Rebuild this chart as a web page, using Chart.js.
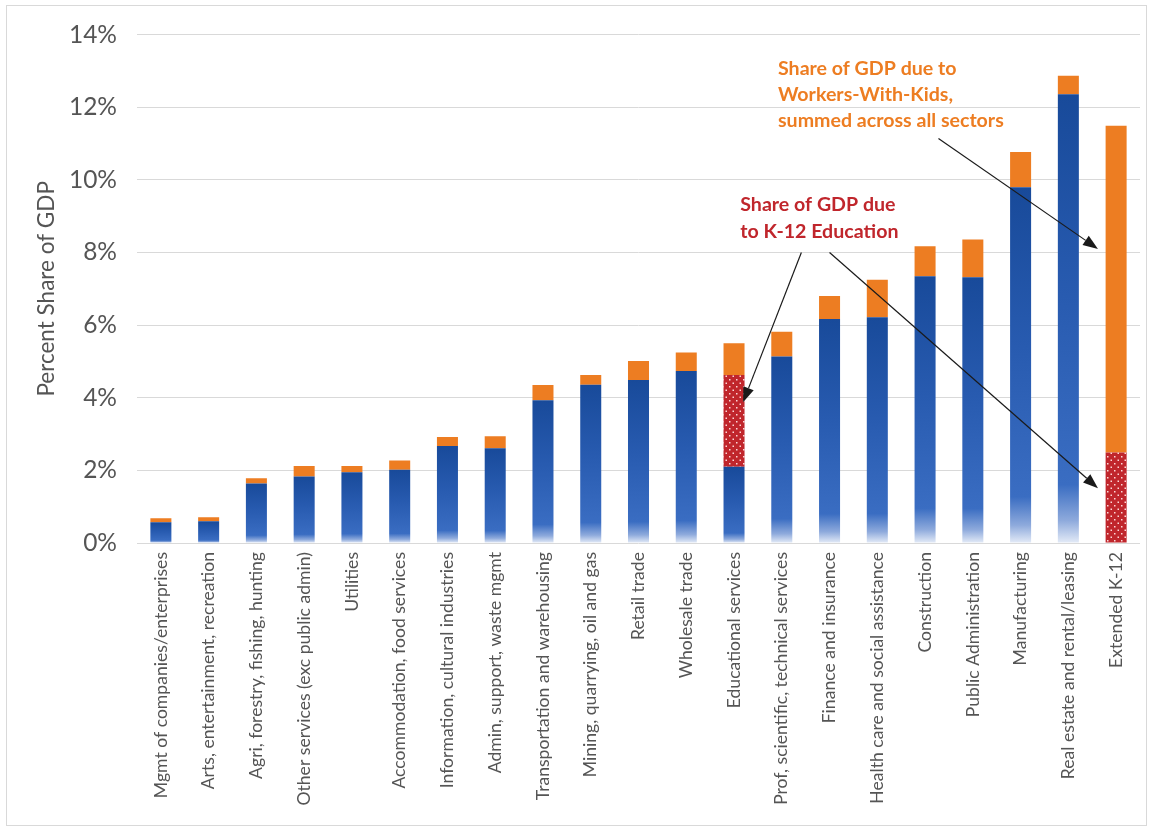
<!DOCTYPE html>
<html>
<head>
<meta charset="utf-8">
<script src="https://cdn.jsdelivr.net/npm/chart.js@4/dist/chart.umd.min.js"></script>
<style>
  html, body { margin: 0; padding: 0; background: #fff; }
  #wrap { width: 1151px; height: 830px; }
</style>
</head>
<body>
<div id="wrap"><canvas id="myChart" width="1151" height="830"></canvas></div>
<script>
"use strict";

const sectors = [
    'Mgmt of companies/enterprises', 'Arts, entertainment, recreation', 'Agri, forestry, fishing, hunting',
    'Other services (exc public admin)', 'Utilities', 'Accommodation, food services',
    'Information, cultural industries', 'Admin, support, waste mgmt', 'Transportation and warehousing',
    'Mining, quarrying, oil and gas', 'Retail trade', 'Wholesale trade', 'Educational services',
    'Prof, scientific, technical services', 'Finance and insurance', 'Health care and social assistance',
    'Construction', 'Public Administration', 'Manufacturing', 'Real estate and rental/leasing', 'Extended K-12'
];
// share of GDP (%) from the sector excluding the parts below
const sectorShare = [0.57, 0.60, 1.64, 1.83, 1.95, 2.02, 2.67, 2.61, 3.93, 4.36, 4.49, 4.74, 2.10,
    5.14, 6.17, 6.22, 7.35, 7.32, 9.80, 12.36, 0];
// share of GDP due to K-12 education
const k12Share = [0, 0, 0, 0, 0, 0, 0, 0, 0, 0, 0, 0, 2.53, 0, 0, 0, 0, 0, 0, 0, 2.49];
// share of GDP due to workers with kids
const kidsShare = [0.11, 0.11, 0.14, 0.29, 0.17, 0.25, 0.25, 0.33, 0.42, 0.27, 0.52, 0.51, 0.87,
    0.68, 0.63, 1.03, 0.82, 1.04, 0.97, 0.51, 9.00];
const yTicks = [0, 2, 4, 6, 8, 10, 12, 14];

const FONT = "Lato, 'Open Sans', sans-serif";
const GREY = '#555555';

function blueFill(c) {
    const chart = c.chart;
    if (!chart.chartArea || c.type !== 'data') return '#2c5eb3';
    const y = chart.scales.y;
    const top = y.getPixelForValue(c.raw);
    const bot = y.getPixelForValue(0);
    if (!(bot > top)) return '#2c5eb3';
    const g = chart.ctx.createLinearGradient(0, top, 0, bot);
    g.addColorStop(0, '#184a9a');
    g.addColorStop(0.45, '#285bb0');
    g.addColorStop(0.87, '#3a6dc2');
    g.addColorStop(0.95, '#8eaadc');
    g.addColorStop(1, '#e4ebf7');
    return g;
}

function dotPattern() {
    const p = document.createElement('canvas');
    p.width = 7; p.height = 7;
    const pc = p.getContext('2d');
    pc.fillStyle = '#c0262c';
    pc.fillRect(0, 0, 7, 7);
    pc.fillStyle = 'rgba(255,225,225,0.95)';
    pc.fillRect(1, 1, 1.5, 1.5);
    pc.fillRect(4.5, 4.5, 1.5, 1.5);
    return document.getElementById('myChart').getContext('2d').createPattern(p, 'repeat');
}

// notes in (category index, value) space
const notes = [
    { lines: ['Share of GDP due to', 'Workers-With-Kids,', 'summed across all sectors'],
      color: '#ed7d22', at: [12.92, 13.07], step: 0.72 },
    { lines: ['Share of GDP due', 'to K-12 Education'], color: '#c0262c', at: [12.13, 9.32], step: 0.74 }
];
const arrows = [
    [[16.28, 11.14], [19.62, 8.10]],
    [[13.41, 8.00], [12.19, 3.88]],
    [[14.00, 8.00], [19.62, 1.51]]
];

const notesPlugin = {
    id: 'notes',
    beforeDraw(chart) {
        const ctx = chart.ctx;
        ctx.save();
        ctx.strokeStyle = '#d9d9d9';
        ctx.lineWidth = 1;
        ctx.strokeRect(6.5, 5.5, 1140, 820);
        ctx.restore();
    },
    afterDatasetsDraw(chart) {
        const ctx = chart.ctx;
        const x = chart.scales.x, y = chart.scales.y;
        ctx.save();
        ctx.font = "bold 19.6px " + FONT;
        ctx.textBaseline = 'middle';
        ctx.textAlign = 'left';
        notes.forEach(function(n) {
            ctx.fillStyle = n.color;
            n.lines.forEach(function(t, i) {
                ctx.fillText(t, x.getPixelForValue(n.at[0]), y.getPixelForValue(n.at[1] - i * n.step));
            });
        });
        ctx.strokeStyle = '#1a1a1a';
        ctx.fillStyle = '#1a1a1a';
        ctx.lineWidth = 1.2;
        arrows.forEach(function(a) {
            const x0 = x.getPixelForValue(a[0][0]), y0 = y.getPixelForValue(a[0][1]);
            const x1 = x.getPixelForValue(a[1][0]), y1 = y.getPixelForValue(a[1][1]);
            const ang = Math.atan2(y1 - y0, x1 - x0);
            const len = 15, half = 5.5;
            const bx = x1 - len * Math.cos(ang), by = y1 - len * Math.sin(ang);
            ctx.beginPath();
            ctx.moveTo(x0, y0);
            ctx.lineTo(bx, by);
            ctx.stroke();
            ctx.beginPath();
            ctx.moveTo(x1, y1);
            ctx.lineTo(bx + half * Math.sin(ang), by - half * Math.cos(ang));
            ctx.lineTo(bx - half * Math.sin(ang), by + half * Math.cos(ang));
            ctx.closePath();
            ctx.fill();
        });
        ctx.restore();
    }
};

window.addEventListener("load", function() {
    const ctx = document.getElementById("myChart");
    new Chart(ctx, {
        "type": 'bar',
        "data": {
            "labels": sectors,
            "datasets": [
                { "label": 'Sector', "data": sectorShare, "backgroundColor": blueFill },
                { "label": 'K-12 Education', "data": k12Share, "backgroundColor": dotPattern() },
                { "label": 'Workers-With-Kids', "data": kidsShare, "backgroundColor": '#ed7d22' }
            ]
        },
        "options": {
            "responsive": false,
            "animation": false,
            "devicePixelRatio": 1,
            "barPercentage": 0.44,
            "categoryPercentage": 1,
            "layout": { "padding": { "left": 0, "top": 31, "right": 11, "bottom": 0 } },
            "plugins": { "legend": { "display": false }, "tooltip": { "enabled": false } },
            "scales": {
                "x": {
                    "stacked": true,
                    "grid": { "display": false, "drawTicks": false },
                    "border": { "display": false },
                    "ticks": {
                        "autoSkip": false, "minRotation": 90, "maxRotation": 90, "padding": 9,
                        "color": GREY, "font": { "family": FONT, "size": 17.6 }
                    },
                    "afterFit": function(s) { s.height = 830 - 543; }
                },
                "y": {
                    "stacked": true,
                    "min": 0, "max": 14,
                    "afterBuildTicks": function(s) { s.ticks = yTicks.map(v => ({ value: v })); },
                    "grid": { "color": '#d9d9d9', "drawTicks": false },
                    "border": { "display": false },
                    "ticks": {
                        "padding": 20, "color": GREY,
                        "font": { "family": FONT, "size": 24.5 },
                        "callback": v => v + '%'
                    },
                    "title": {
                        "display": true, "text": 'Percent Share of GDP', "color": GREY,
                        "font": { "family": FONT, "size": 22.5 },
                        "padding": { "top": 33, "bottom": 0 }
                    },
                    "afterFit": function(s) { s.width = 137; }
                }
            }
        },
        "plugins": [notesPlugin]
    });
});
</script>
</body>
</html>
